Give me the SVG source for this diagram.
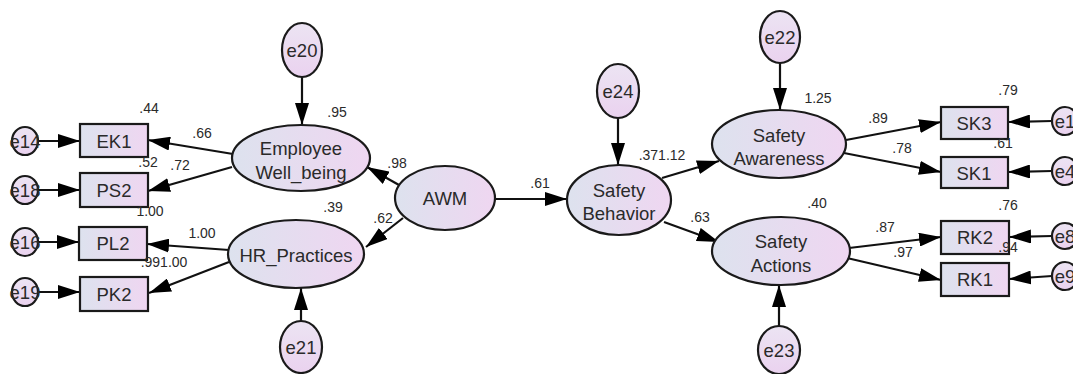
<svg xmlns="http://www.w3.org/2000/svg" width="1073" height="374" viewBox="0 0 1073 374">
<defs>
<linearGradient id="g" x1="0" y1="0" x2="1" y2="0">
<stop offset="0" stop-color="#dde2ee"/>
<stop offset="1" stop-color="#efd6f1"/>
</linearGradient>
<linearGradient id="ge" x1="0" y1="0" x2="0" y2="1">
<stop offset="0" stop-color="#ece4f3"/>
<stop offset="1" stop-color="#ead2ef"/>
</linearGradient>
<marker id="ah" viewBox="0 0 22 14" refX="22" refY="7" markerWidth="22" markerHeight="14" markerUnits="userSpaceOnUse" orient="auto">
<path d="M0,0 L22,7 L0,14 Z" fill="#000"/>
</marker>
</defs>
<style>
.n{fill:url(#g);stroke:#1a1a1a;stroke-width:2.2}
.e{fill:url(#ge);stroke:#1a1a1a;stroke-width:2.2}
.t{font-family:"Liberation Sans",Arial,sans-serif;font-size:18.5px;fill:#2a2a2a;text-anchor:middle}
.te{font-family:"Liberation Sans",Arial,sans-serif;font-size:18.5px;fill:#2a2a2a;text-anchor:middle}
.l{font-family:"Liberation Sans",Arial,sans-serif;font-size:14px;fill:#2a2a2a;text-anchor:middle}
.c{stroke:#111;stroke-width:2.2;fill:none;marker-end:url(#ah)}
</style>
<rect width="1073" height="374" fill="#fff"/>
<g id="connectors">
<line class="c" x1="38" y1="141" x2="80" y2="141"/>
<line class="c" x1="38" y1="190" x2="80" y2="190"/>
<line class="c" x1="38" y1="242" x2="79" y2="242"/>
<line class="c" x1="38" y1="292" x2="80" y2="292"/>
<line class="c" x1="233" y1="154" x2="148" y2="140"/>
<line class="c" x1="232" y1="167" x2="148" y2="191"/>
<line class="c" x1="229" y1="250" x2="147" y2="244"/>
<line class="c" x1="229" y1="262" x2="149" y2="293"/>
<line class="c" x1="302" y1="77" x2="302" y2="125"/>
<line class="c" x1="301" y1="321" x2="301" y2="288"/>
<line class="c" x1="399" y1="185" x2="367" y2="167"/>
<line class="c" x1="403" y1="218" x2="366" y2="247"/>
<line class="c" x1="496" y1="199" x2="567" y2="199"/>
<line class="c" x1="618" y1="118" x2="618" y2="165"/>
<line class="c" x1="662" y1="178" x2="719" y2="161"/>
<line class="c" x1="664" y1="222" x2="719" y2="242"/>
<line class="c" x1="780" y1="63" x2="780" y2="110"/>
<line class="c" x1="779" y1="326" x2="779" y2="285"/>
<line class="c" x1="846" y1="140" x2="941" y2="122"/>
<line class="c" x1="844" y1="153" x2="941" y2="172"/>
<line class="c" x1="849" y1="248" x2="941" y2="237"/>
<line class="c" x1="847" y1="258" x2="941" y2="280"/>
<line class="c" x1="1052" y1="121" x2="1008" y2="122"/>
<line class="c" x1="1052" y1="171" x2="1008" y2="172"/>
<line class="c" x1="1052" y1="236" x2="1009" y2="237"/>
<line class="c" x1="1052" y1="276" x2="1009" y2="279"/>
</g>
<g id="e14"><ellipse class="e" cx="25" cy="141" rx="13" ry="14"/><text class="te" x="25" y="148">e14</text></g>
<g id="e18"><ellipse class="e" cx="25" cy="190" rx="13" ry="14"/><text class="te" x="25" y="197">e18</text></g>
<g id="e16"><ellipse class="e" cx="25" cy="242" rx="13" ry="14"/><text class="te" x="25" y="249">e16</text></g>
<g id="e19"><ellipse class="e" cx="25" cy="292" rx="13" ry="14"/><text class="te" x="25" y="299">e19</text></g>
<g id="EK1"><rect class="n" x="80" y="124" width="68" height="33"/><text class="t" x="114" y="148">EK1</text></g>
<g id="PS2"><rect class="n" x="80" y="173" width="68" height="34"/><text class="t" x="114" y="197">PS2</text></g>
<g id="PL2"><rect class="n" x="79" y="227" width="68" height="33"/><text class="t" x="113" y="250">PL2</text></g>
<g id="PK2"><rect class="n" x="80" y="277" width="68" height="34"/><text class="t" x="114" y="301">PK2</text></g>
<g id="e20"><ellipse class="e" cx="302" cy="50" rx="20" ry="27"/><text class="te" x="302" y="57">e20</text></g>
<g id="EmployeeWellBeing"><ellipse class="n" cx="301" cy="158" rx="69" ry="33"/><text class="t" x="301" y="155">Employee</text><text class="t" x="301" y="179">Well_being</text></g>
<g id="HRPractices"><ellipse class="n" cx="296" cy="254" rx="68" ry="34"/><text class="t" x="296" y="262">HR_Practices</text></g>
<g id="e21"><ellipse class="e" cx="301" cy="347" rx="21" ry="26"/><text class="te" x="301" y="354">e21</text></g>
<g id="AWM"><ellipse class="n" cx="445" cy="198" rx="50" ry="32"/><text class="t" x="445" y="205">AWM</text></g>
<g id="e24"><ellipse class="e" cx="618" cy="91" rx="21" ry="27"/><text class="te" x="618" y="98">e24</text></g>
<g id="SafetyBehavior"><ellipse class="n" cx="619" cy="200" rx="52" ry="35"/><text class="t" x="619" y="197">Safety</text><text class="t" x="619" y="220">Behavior</text></g>
<g id="e22"><ellipse class="e" cx="780" cy="37" rx="20" ry="26"/><text class="te" x="780" y="44">e22</text></g>
<g id="SafetyAwareness"><ellipse class="n" cx="779" cy="144" rx="67" ry="34"/><text class="t" x="779" y="142">Safety</text><text class="t" x="779" y="165">Awareness</text></g>
<g id="SafetyActions"><ellipse class="n" cx="781" cy="251" rx="69" ry="34"/><text class="t" x="781" y="248">Safety</text><text class="t" x="781" y="272">Actions</text></g>
<g id="e23"><ellipse class="e" cx="779" cy="350" rx="21" ry="24"/><text class="te" x="779" y="357">e23</text></g>
<g id="SK3"><rect class="n" x="941" y="107" width="67" height="32"/><text class="t" x="974" y="130">SK3</text></g>
<g id="SK1"><rect class="n" x="941" y="157" width="67" height="31"/><text class="t" x="974" y="180">SK1</text></g>
<g id="RK2"><rect class="n" x="941" y="221" width="68" height="33"/><text class="t" x="975" y="244">RK2</text></g>
<g id="RK1"><rect class="n" x="941" y="263" width="68" height="33"/><text class="t" x="975" y="286">RK1</text></g>
<g id="e1"><ellipse class="e" cx="1065" cy="121" rx="13" ry="14"/><text class="te" x="1065" y="128">e1</text></g>
<g id="e4"><ellipse class="e" cx="1065" cy="171" rx="13" ry="14"/><text class="te" x="1065" y="178">e4</text></g>
<g id="e8"><ellipse class="e" cx="1065" cy="236" rx="13" ry="13"/><text class="te" x="1065" y="243">e8</text></g>
<g id="e9"><ellipse class="e" cx="1065" cy="276" rx="13" ry="14"/><text class="te" x="1065" y="283">e9</text></g>
<g id="labels">
<text class="l" x="149" y="113">.44</text>
<text class="l" x="202" y="138">.66</text>
<text class="l" x="148" y="167">.52</text>
<text class="l" x="180" y="170">.72</text>
<text class="l" x="337" y="117">.95</text>
<text class="l" x="397" y="168">.98</text>
<text class="l" x="333" y="212">.39</text>
<text class="l" x="383" y="223">.62</text>
<text class="l" x="150" y="216">1.00</text>
<text class="l" x="202" y="238">1.00</text>
<text class="l" x="164" y="267">.991.00</text>
<text class="l" x="540" y="188">.61</text>
<text class="l" x="662" y="160">.371.12</text>
<text class="l" x="700" y="222">.63</text>
<text class="l" x="818" y="103">1.25</text>
<text class="l" x="878" y="123">.89</text>
<text class="l" x="902" y="153">.78</text>
<text class="l" x="1008" y="95">.79</text>
<text class="l" x="1003" y="148">.61</text>
<text class="l" x="817" y="208">.40</text>
<text class="l" x="1008" y="210">.76</text>
<text class="l" x="885" y="232">.87</text>
<text class="l" x="903" y="257">.97</text>
<text class="l" x="1008" y="252">.94</text>
</g>
</svg>
